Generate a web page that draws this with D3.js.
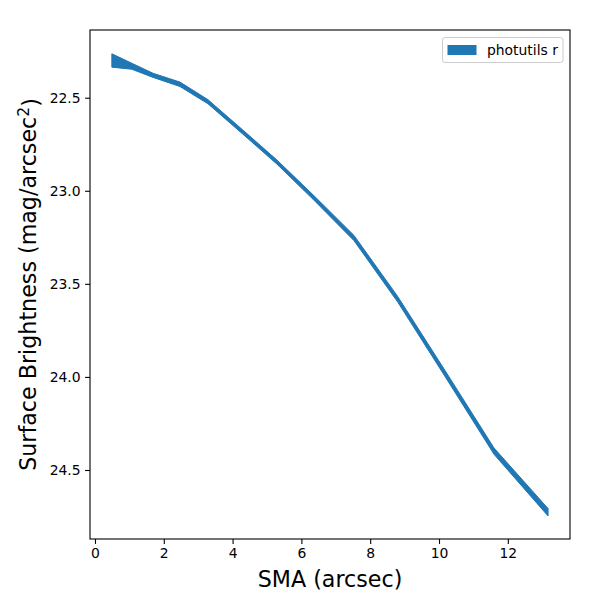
<!DOCTYPE html>
<html>
<head>
<meta charset="utf-8">
<script src="https://cdn.jsdelivr.net/npm/d3@7"></script>
<style>
  html, body { margin: 0; padding: 0; background: #fff; }
  svg { display: block; font-family: "DejaVu Sans", sans-serif; }
</style>
</head>
<body>
<svg id="chart" width="600" height="600"></svg>
<script>
// ---- data ----
const sma = [0.49, 1.07, 1.69, 2.47, 3.28, 4.30, 5.29, 6.34, 7.53, 8.80, 10.17, 11.60, 13.17];
const mag = [22.300, 22.331, 22.380, 22.428, 22.521, 22.685, 22.846, 23.034, 23.254, 23.583, 23.980, 24.399, 24.727];
const magErr = [0.036, 0.016, 0.011, 0.012, 0.011, 0.011, 0.011, 0.012, 0.014, 0.015, 0.016, 0.017, 0.020];
const xTicks = [0, 2, 4, 6, 8, 10, 12];
const yTicks = [22.5, 23.0, 23.5, 24.0, 24.5];
const xDomain = [-0.145, 13.808];
const yDomain = [22.1363, 24.8707];
const seriesLabel = "photutils r";
const xLabel = "SMA (arcsec)";
const yLabelMain = "Surface Brightness (mag/arcsec";
const color = "#1f77b4";

const rows = sma.map((s, i) => ({ x: s, y: mag[i], e: magErr[i] }));

// ---- layout ----
const L = 90, R = 570, T = 30, B = 539;
const svg = d3.select("#chart");

const x = d3.scaleLinear().domain(xDomain).range([L, R]);
const y = d3.scaleLinear().domain(yDomain).range([T, B]);

// band
const area = d3.area()
  .x(d => x(d.x))
  .y0(d => y(d.y + d.e))
  .y1(d => y(d.y - d.e));

svg.append("path")
  .datum(rows)
  .attr("d", area)
  .attr("fill", color)
  .attr("stroke", color)
  .attr("stroke-width", 1)
  .attr("stroke-linejoin", "miter");

// axes
const tickFont = "13.9px";
const xAxis = d3.axisBottom(x).tickValues(xTicks).tickFormat(d3.format("d")).tickSize(4.9).tickPadding(4.5);
const yAxis = d3.axisLeft(y).tickValues(yTicks).tickFormat(d3.format(".1f")).tickSize(4.9).tickPadding(4.5);

const gx = svg.append("g").attr("transform", `translate(0,${B})`).call(xAxis);
const gy = svg.append("g").attr("transform", `translate(${L},0)`).call(yAxis);
[gx, gy].forEach(g => {
  g.select(".domain").remove();
  g.selectAll(".tick line").attr("stroke", "#000").attr("stroke-width", 1.1);
  g.selectAll(".tick text").attr("fill", "#000").style("font-size", tickFont)
    .style("font-family", "DejaVu Sans, sans-serif");
});

// frame
svg.append("rect")
  .attr("x", L).attr("y", T).attr("width", R - L).attr("height", B - T)
  .attr("fill", "none").attr("stroke", "#000").attr("stroke-width", 1.1);

// axis labels
svg.append("text")
  .attr("x", (L + R) / 2).attr("y", 587)
  .attr("text-anchor", "middle")
  .style("font-size", "22.2px")
  .attr("fill", "#000")
  .text(xLabel);

const yl = svg.append("text")
  .attr("transform", `translate(36,${(T + B) / 2}) rotate(-90)`)
  .attr("text-anchor", "middle")
  .style("font-size", "22.2px")
  .attr("fill", "#000");
yl.append("tspan").text(yLabelMain);
yl.append("tspan").attr("dy", "-0.45em").style("font-size", "15.5px").text("2");
yl.append("tspan").attr("dy", "0.45em").text(")");

// legend
const lg = svg.append("g");
lg.append("rect")
  .attr("x", 442.5).attr("y", 37.5).attr("width", 120.5).attr("height", 25)
  .attr("rx", 2.5).attr("ry", 2.5)
  .attr("fill", "#fff").attr("fill-opacity", 0.8)
  .attr("stroke", "#cccccc").attr("stroke-width", 1);
lg.append("rect")
  .attr("x", 447.5).attr("y", 45).attr("width", 29).attr("height", 10)
  .attr("fill", color);
lg.append("text")
  .attr("x", 487).attr("y", 55)
  .style("font-size", tickFont)
  .attr("fill", "#000")
  .text(seriesLabel);
</script>
</body>
</html>
